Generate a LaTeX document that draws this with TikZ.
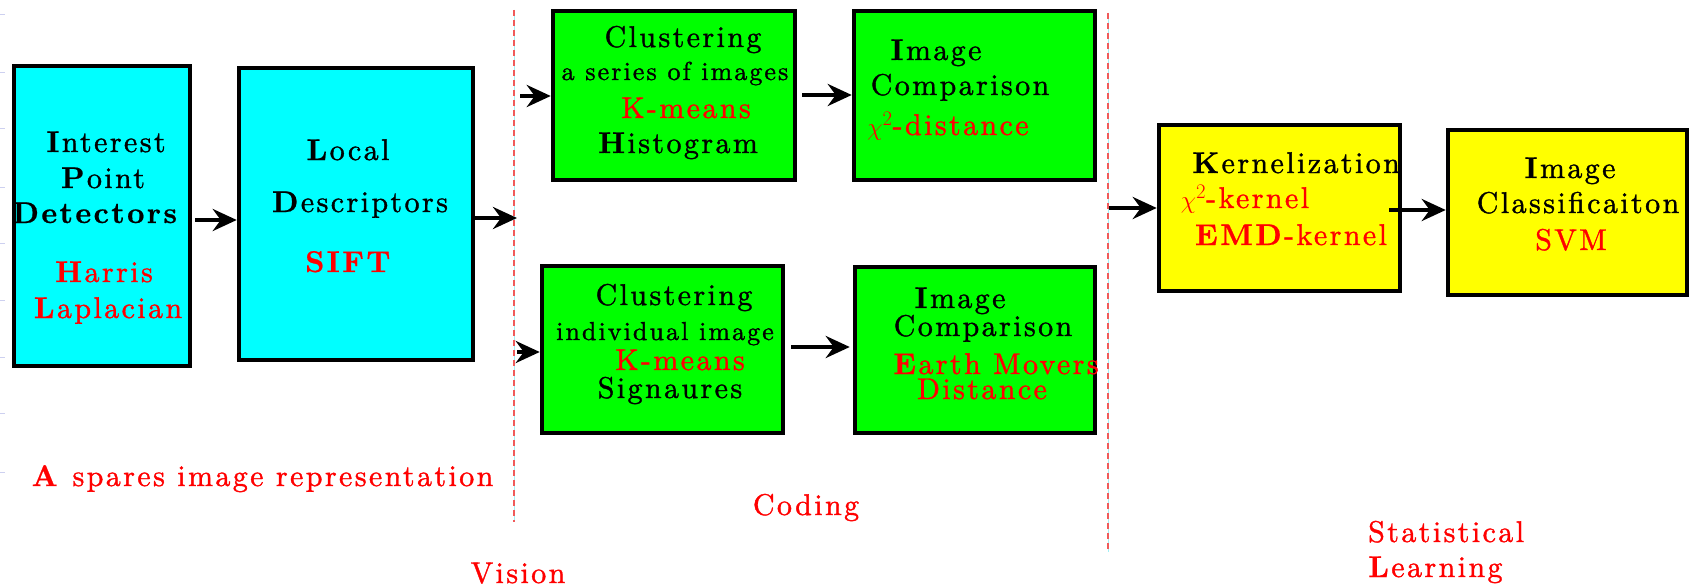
\documentclass[tikz,border=0pt]{standalone}
\usepackage{fontspec}
\setmainfont{lmroman10-regular.otf}[
  BoldFont=lmroman10-bold.otf,
  LetterSpace=8,
  FakeBold=1.2,
  BoldFeatures={FakeBold=0.6}]
\usetikzlibrary{arrows.meta}

\definecolor{boxcyan}{RGB}{0,255,255}
\definecolor{boxgreen}{RGB}{0,255,0}
\definecolor{boxyellow}{RGB}{255,255,0}
\definecolor{lblred}{RGB}{255,0,0}
\definecolor{guidecyan}{RGB}{160,240,245}
\definecolor{guidered}{RGB}{240,90,90}
\definecolor{tickblue}{RGB}{205,208,240}

\tikzset{
  stage/.style={draw=black, line width=4.5pt, inner sep=0pt},
  arr/.style={line width=4pt, -{Stealth[length=24pt, width=22pt, inset=8pt]}},
  txt/.style={anchor=base, inner sep=0pt, font=\fontsize{30}{36}\selectfont},
  smalltxt/.style={txt, font=\fontsize{26}{30}\selectfont},
  hl/.style={text=lblred},
  guideline/.style={guidered, line width=1.6pt, dash pattern=on 6pt off 4pt},
  guideback/.style={guidecyan, line width=1pt},
}

\begin{document}
\begin{tikzpicture}[x=1pt, y=-1pt]
\path[use as bounding box] (0,0) rectangle (1696,586);

% faint ruler ticks along the left edge
\foreach \t in {15,72,128,187,243,300,357,413,472}
  \draw[tickblue, line width=1pt] (0,\t) -- (5,\t);

% stage dividers
\draw[guideback] (514,10) -- (514,522);
\draw[guideline] (514,10) -- (514,522);
\draw[guideback] (1108,13) -- (1108,552);
\draw[guideline] (1108,13) -- (1108,552);

% vision stage
\node[stage, fill=boxcyan, minimum width=176pt, minimum height=300pt] (det) at (102,216) {};
\node[stage, fill=boxcyan, minimum width=234pt, minimum height=292pt] (desc) at (356,214) {};

% coding stage
\node[stage, fill=boxgreen, minimum width=242pt, minimum height=169pt] (clA) at (674,95.5) {};
\node[stage, fill=boxgreen, minimum width=241pt, minimum height=169pt] (cmpA) at (974.5,95.5) {};
\node[stage, fill=boxgreen, minimum width=241pt, minimum height=167pt] (clB) at (662.5,349.5) {};
\node[stage, fill=boxgreen, minimum width=240pt, minimum height=166pt] (cmpB) at (975,350) {};

% learning stage
\node[stage, fill=boxyellow, minimum width=241pt, minimum height=166pt] (ker) at (1279.5,208) {};
\node[stage, fill=boxyellow, minimum width=239pt, minimum height=165pt] (cls) at (1567.5,212.5) {};

% box texts
\node[txt] (d1) at (106,152) {\textbf{I}nterest};
\node[txt] (d2) at (103,188) {\textbf{P}oint};
\node[txt] (d3) at (96,223) {\textbf{Detectors}};
\node[txt, hl] (d4) at (104,282) {\textbf{H}arris};
\node[txt, hl] (d5) at (108,318) {\textbf{L}aplacian};

\node[txt] (s1) at (348,160) {\textbf{L}ocal};
\node[txt] (s2) at (360,212) {\textbf{D}escriptors};
\node[txt, hl] (s3) at (349,272) {\textbf{SIFT}};

\node[txt] (a1) at (683,47) {Clustering};
\node[smalltxt] (a2) at (675,80) {a series of images};
\node[txt, hl] (a3) at (686,118) {K-means};
\node[txt] (a4) at (678,153) {\textbf{H}istogram};

\node[txt] (b1) at (936,60) {\textbf{I}mage};
\node[txt] (b2) at (960,95) {Comparison};
\node[txt, hl] (b3) at (948,135) {$\chi^2$-distance};

\node[txt] (c1) at (674,305) {Clustering};
\node[smalltxt] (c2) at (665,340) {individual image};
\node[txt, hl] (c3) at (680,370) {K-means};
\node[txt] (c4) at (670,398) {Signaures};

\node[txt] (e1) at (960,308) {\textbf{I}mage};
\node[txt] (e2) at (983,336) {Comparison};
\node[txt, hl] (e3) at (996,374) {\textbf{E}arth Movers};
\node[txt, hl] (e4) at (982,399) {Distance};

\node[txt] (k1) at (1296,173) {\textbf{K}ernelization};
\node[txt, hl] (k2) at (1245,208) {$\chi^2$-kernel};
\node[txt, hl] (k3) at (1291,245) {\textbf{EMD}-kernel};

\node[txt] (m1) at (1570,178) {\textbf{I}mage};
\node[txt] (m2) at (1578,213) {Classificaiton};
\node[txt, hl] (m3) at (1571,250) {SVM};

% stage captions
\node[txt, hl] (capRep) at (262.5,486) {\textbf{A} spares image representation};
\node[txt, hl] (capCod) at (806,515) {Coding};
\node[txt, hl] (capVis) at (518,583) {Vision};
\node[txt, hl, anchor=base west] (capSt) at (1368,542) {Statistical};
\node[txt, hl, anchor=base west] (capLe) at (1368,577) {\textbf{L}earning};

% connectors
\coordinate (vsplit) at (517,218);
\coordinate (inA) at (520,96);
\coordinate (inB) at (517,352);
\coordinate (inK) at (1109,208);

\draw[arr, shorten <=3pt] (det.east |- 0,220) -- (desc.west |- 0,220);
\draw[arr] (desc.east |- vsplit) -- (vsplit);
\draw[arr] (inA) -- (clA.west |- inA);
\draw[arr] (inB) -- (clB.west |- inB);
\draw[arr, shorten <=5pt] (clA.east |- 0,95) -- (cmpA.west |- 0,95);
\draw[arr, shorten <=6pt, shorten >=3pt] (clB.east |- 0,347) -- (cmpB.west |- 0,347);
\draw[arr] (inK) -- (ker.west |- inK);
\draw[arr] ([xshift=-13pt]ker.east |- 0,210) -- (cls.west |- 0,210);
\end{tikzpicture}
\end{document}
